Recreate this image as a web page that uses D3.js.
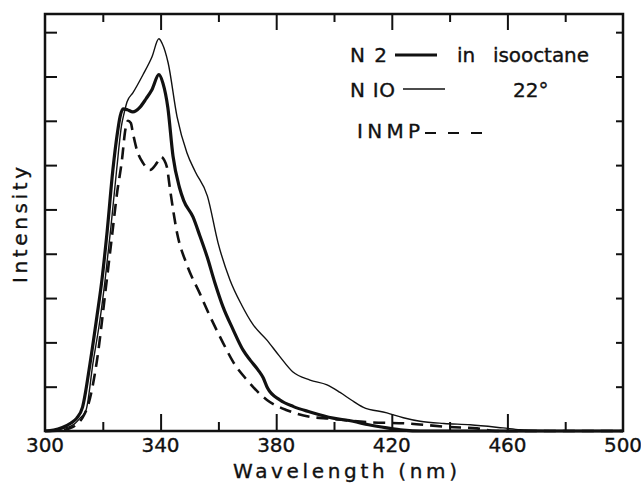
<!DOCTYPE html>
<html>
<head>
<meta charset="utf-8">
<script src="https://cdn.jsdelivr.net/npm/d3@7"></script>
<style>
  body { margin: 0; background: #fff; }
  text { font-family: "DejaVu Sans", "Liberation Sans", sans-serif; fill: #111; stroke: #111; stroke-width: 0.35px; font-size: 20px; }
</style>
</head>
<body>
<svg id="chart" width="641" height="484"></svg>
<script>
// N2 (thick solid)
const n2Wl = [300, 303, 306, 309, 311, 313, 315.6, 318, 319.7, 321.5, 323.5, 325, 326, 327, 328.5, 330.4, 332.9, 335, 337, 339.4, 340.8, 342.5, 344.3, 346.5, 348, 351.2, 353.6, 356.1, 358.8, 361.6, 365, 368.5, 371, 373.7, 375.5, 377, 381.3, 386, 391.7, 399.7, 406.6, 412, 418.3, 424, 430, 500];
const n2I  = [0, 0.02, 0.08, 0.18, 0.29, 0.54, 1.53, 2.6, 3.41, 4.5, 5.9, 6.7, 7.1, 7.27, 7.25, 7.2, 7.31, 7.5, 7.7, 8.04, 7.85, 7.3, 6.2, 5.5, 5.2, 4.83, 4.4, 3.93, 3.34, 2.8, 2.3, 1.83, 1.6, 1.38, 1.2, 0.97, 0.7, 0.55, 0.43, 0.29, 0.22, 0.14, 0.07, 0.02, 0, 0];

// N10 (thin solid)
const n10Wl = [300, 303, 306, 310, 312, 314.2, 316.6, 319, 320.8, 322.8, 324.8, 326.5, 327.3, 328.4, 330.4, 333.9, 337, 339.4, 340.5, 342.6, 345.7, 349.1, 352, 356.2, 359.9, 364, 368, 372, 376.8, 381, 385.8, 391.7, 397.6, 402.1, 406, 410, 418.3, 424, 429.8, 438, 447.1, 458.5, 464.4, 470, 480, 500];
const n10I  = [0, 0.01, 0.05, 0.15, 0.28, 0.47, 1.53, 2.5, 3.41, 4.6, 5.9, 6.9, 7.15, 7.43, 7.63, 8.04, 8.44, 8.85, 8.75, 8.31, 7.09, 6.28, 5.85, 5.3, 4.24, 3.41, 2.85, 2.4, 2.05, 1.7, 1.33, 1.15, 1.04, 0.87, 0.7, 0.54, 0.41, 0.3, 0.22, 0.17, 0.14, 0.07, 0.03, 0.01, 0, 0];

// INMP (dashed)
const inmpWl = [300, 305, 308, 311, 313, 315, 318, 321, 323, 325, 326.6, 327.8, 328.7, 329.7, 330.4, 331.8, 333.9, 336.3, 338.7, 340.1, 341.2, 342.2, 343.3, 345.7, 349.1, 353.6, 356.1, 361.6, 365.1, 369.9, 376.8, 383.7, 391.7, 398.6, 411.4, 425.3, 440.1, 449.5, 456, 500];
const inmpI  = [0, 0.01, 0.05, 0.15, 0.3, 0.6, 1.6, 3.2, 4.3, 5.4, 6.1, 6.8, 7.0, 6.95, 6.73, 6.34, 6.05, 5.89, 6.05, 6.19, 6.12, 5.95, 5.44, 4.47, 3.75, 3.1, 2.73, 1.99, 1.56, 1.15, 0.7, 0.47, 0.32, 0.28, 0.2, 0.17, 0.09, 0.06, 0, 0];

const xLabels = [300, 340, 380, 420, 460, 500];
const xMajor = [340, 380, 420, 460];
const xMinor = [320, 360, 400, 440, 480];
const yTicks = [1, 2, 3, 4, 5, 6, 7, 8, 9];

const legendNames = ["N 2", "N IO", "INMP"];
const legendNotes = ["in", "isooctane", "22°"];

const svg = d3.select("#chart");
const m = { left: 45, right: 623, top: 14, bottom: 431 };

const x = d3.scaleLinear().domain([300, 500]).range([m.left, m.right]);
const y = d3.scaleLinear().domain([0, 9.41]).range([m.bottom, m.top]);

// Axis ticks (all pointing inward)
function styleAxis(g) {
  g.select(".domain").remove();
  g.selectAll(".tick line").attr("stroke", "#111").attr("stroke-width", 2);
  g.selectAll(".tick text").remove();
}

svg.append("g").attr("transform", `translate(0,${m.bottom})`)
  .call(d3.axisBottom(x).tickValues(xMajor).tickSize(-17)).call(styleAxis);
svg.append("g").attr("transform", `translate(0,${m.bottom})`)
  .call(d3.axisBottom(x).tickValues(xMinor).tickSize(-9)).call(styleAxis);
svg.append("g").attr("transform", `translate(0,${m.top})`)
  .call(d3.axisTop(x).tickValues(xMajor).tickSize(-16)).call(styleAxis);
svg.append("g").attr("transform", `translate(0,${m.top})`)
  .call(d3.axisTop(x).tickValues(xMinor).tickSize(-8)).call(styleAxis);
svg.append("g").attr("transform", `translate(${m.left},0)`)
  .call(d3.axisLeft(y).tickValues(yTicks).tickSize(-12)).call(styleAxis);
svg.append("g").attr("transform", `translate(${m.right},0)`)
  .call(d3.axisRight(y).tickValues(yTicks).tickSize(-7)).call(styleAxis);

// Frame
svg.append("rect")
  .attr("x", m.left).attr("y", m.top)
  .attr("width", m.right - m.left).attr("height", m.bottom - m.top)
  .attr("fill", "none").attr("stroke", "#111").attr("stroke-width", 2.5);

// Tick labels
svg.selectAll(".xlabel")
  .data(xLabels)
  .enter().append("text")
  .attr("class", "xlabel")
  .attr("x", d => x(d) - 19)
  .attr("y", 452)
  .attr("textLength", 38)
  .attr("lengthAdjust", "spacing")
  .text(d => d);

// Axis titles
svg.append("text")
  .attr("x", 233).attr("y", 478)
  .attr("textLength", 224).attr("lengthAdjust", "spacing")
  .text("Wavelength (nm)");

svg.append("text")
  .attr("transform", "translate(27,283) rotate(-90)")
  .attr("textLength", 116).attr("lengthAdjust", "spacing")
  .text("Intensity");

// Curves
const line = d3.line()
  .x(d => x(d[0]))
  .y(d => y(d[1]))
  .curve(d3.curveMonotoneX);

const series = [
  { wl: n10Wl, val: n10I, width: 1.4, dash: null },
  { wl: inmpWl, val: inmpI, width: 2.6, dash: "12,7" },
  { wl: n2Wl, val: n2I, width: 3.2, dash: null }
];

svg.selectAll(".curve")
  .data(series)
  .enter().append("path")
  .attr("class", "curve")
  .attr("d", s => line(d3.zip(s.wl, s.val)))
  .attr("fill", "none")
  .attr("stroke", "#111")
  .attr("stroke-width", s => s.width)
  .attr("stroke-dasharray", s => s.dash)
  .attr("stroke-linejoin", "round");

// Legend
const legend = svg.append("g");
const leg = [
  { name: legendNames[0], nx: 350, nw: 37, by: 62, lx1: 395, lx2: 437, ly: 55, width: 3.2, dash: null },
  { name: legendNames[1], nx: 350, nw: 45, by: 97, lx1: 403, lx2: 445, ly: 89, width: 1.4, dash: null },
  { name: legendNames[2], nx: 357, nw: 63, by: 138, lx1: 425, lx2: 487, ly: 133, width: 2.2, dash: "11,12" }
];
leg.forEach(d => {
  legend.append("text")
    .attr("x", d.nx).attr("y", d.by)
    .attr("textLength", d.nw).attr("lengthAdjust", "spacing")
    .text(d.name);
  legend.append("line")
    .attr("x1", d.lx1).attr("x2", d.lx2)
    .attr("y1", d.ly).attr("y2", d.ly)
    .attr("stroke", "#111")
    .attr("stroke-width", d.width)
    .attr("stroke-dasharray", d.dash);
});

legend.append("text").attr("x", 457).attr("y", 62).text(legendNotes[0]);
legend.append("text").attr("x", 493).attr("y", 62)
  .attr("textLength", 96).attr("lengthAdjust", "spacing")
  .text(legendNotes[1]);
legend.append("text").attr("x", 513).attr("y", 97).text(legendNotes[2]);
</script>
</body>
</html>
